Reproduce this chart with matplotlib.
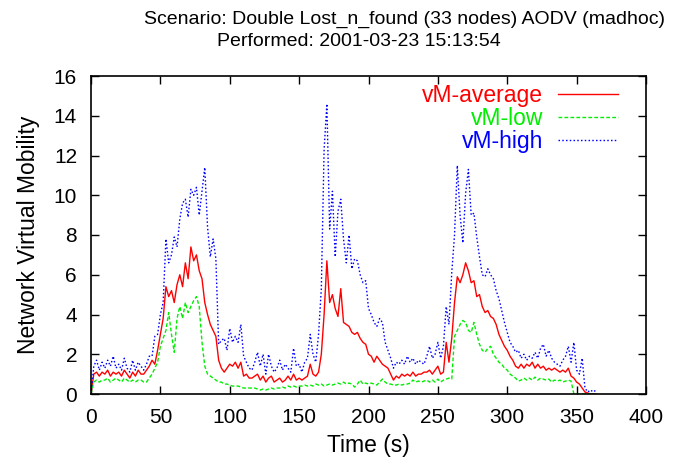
import numpy as np
import matplotlib
matplotlib.use("Agg")
import matplotlib.pyplot as plt

# values, one sample every 2 s
vm_average = [
    0.0, 1.0, 1.1, 0.9, 1.1, 1.0, 1.2, 0.9, 1.1, 1.0,
    1.1, 0.9, 1.2, 1.0, 0.8, 1.1, 0.9, 1.2, 1.0, 1.0,
    1.2, 1.4, 1.7, 1.5, 2.2, 3.0, 3.8, 5.4, 4.9, 5.2,
    4.6, 5.5, 6.0, 5.4, 6.6, 5.8, 7.4, 6.7, 7.0, 6.2,
    5.8, 4.6, 4.0, 3.5, 3.2, 2.9, 1.7, 1.3, 1.1, 1.3,
    1.5, 1.4, 1.6, 1.3, 1.6, 0.9, 1.0, 0.8, 0.8,
    0.9, 1.0, 0.7, 0.9, 0.6, 0.8, 0.9, 0.6, 0.7, 0.8,
    0.6, 0.7, 0.9, 0.7, 1.0, 0.7, 0.8, 0.7, 0.8, 0.9,
    1.5, 1.0, 0.9, 1.1, 2.0, 4.0, 6.7, 4.6, 5.0, 4.3,
    3.9, 5.3, 3.6, 3.5, 3.4, 3.1, 3.0, 3.1, 2.8, 2.6,
    2.5, 2.0, 1.9, 1.6, 1.9, 1.7, 1.5, 1.4, 1.3, 1.0,
    0.7, 0.9, 0.8, 1.0, 0.9, 1.0, 0.9, 1.1, 0.9, 1.0,
    1.0, 1.1, 1.1, 1.2, 1.0, 1.2, 1.4, 1.0, 1.1,
    2.6, 1.6, 2.8, 4.6, 5.9, 5.6, 6.0, 6.6, 6.2, 5.6,
    5.7, 4.9, 5.0, 4.4, 4.1, 4.2, 3.9, 3.8, 3.5, 3.0,
    2.7, 2.4, 2.2, 1.9, 1.7, 1.4, 1.3, 1.5, 1.3, 1.5,
    1.4, 1.6, 1.3, 1.5, 1.3, 1.4, 1.2, 1.3, 1.2, 1.3,
    1.2, 1.1, 1.2, 1.1, 1.3, 0.9, 0.8, 0.6, 0.5, 0.3,
    0.1, 0.05, 0.0, 0.0, 0.0,
]
vm_low = [
    0.0, 0.6, 0.7, 0.6, 0.7, 0.7, 0.8, 0.6, 0.7, 0.8,
    0.7, 0.6, 0.8, 0.7, 0.6, 0.7, 0.6, 0.7, 0.7, 0.6,
    0.6, 0.8, 1.0, 1.3, 1.6, 2.4, 2.8, 3.2, 4.1, 3.0,
    2.1, 3.8, 4.4, 3.8, 4.6, 4.1, 4.4, 4.7, 4.9, 4.4,
    2.6, 1.4, 1.0, 0.9, 0.8, 0.7, 0.6, 0.6, 0.5, 0.5,
    0.45, 0.4, 0.4, 0.4, 0.35, 0.3, 0.3, 0.3, 0.3,
    0.3, 0.25, 0.2, 0.25, 0.2, 0.25, 0.3, 0.25, 0.3, 0.3,
    0.35, 0.3, 0.4, 0.35, 0.4, 0.35, 0.4, 0.4, 0.45, 0.4,
    0.45, 0.4, 0.5, 0.45, 0.5, 0.4, 0.45, 0.5, 0.45, 0.5,
    0.55, 0.5, 0.6, 0.5, 0.55, 0.5, 0.35, 0.5, 0.7, 0.5,
    0.55, 0.5, 0.55, 0.5, 0.45, 0.6, 0.75, 0.6, 0.5, 0.5,
    0.45, 0.45, 0.5, 0.45, 0.5, 0.5, 0.55, 0.7, 0.6, 0.65,
    0.6, 0.65, 0.7, 0.6, 0.7, 0.6, 0.75, 0.6, 0.7,
    0.75, 0.8, 0.75, 2.9, 3.2, 3.5, 3.7, 3.6, 3.2, 3.1,
    3.6, 3.0, 2.5, 2.2, 2.1, 2.3, 2.4, 2.0, 1.8, 1.6,
    1.5, 1.3, 1.2, 1.0, 0.9, 0.8, 0.65, 0.7, 0.8, 0.7,
    0.8, 0.7, 0.85, 0.7, 0.8, 0.75, 0.7, 0.75, 0.6, 0.7,
    0.65, 0.7, 0.6, 0.65, 0.7, 0.65, 0.0, 0.0, 0.0, 0.0,
    0.0, 0.0, 0.0, 0.0, 0.0,
]
vm_high = [
    0.0, 1.4, 1.7, 1.2, 1.6, 1.3, 1.7, 1.4, 1.9, 1.3,
    1.5, 1.2, 1.8, 1.3, 1.1, 1.7, 1.2, 1.6, 1.4, 1.2,
    1.5, 1.9, 1.9, 2.9, 3.0, 4.0, 4.6, 7.8, 6.6, 7.0,
    7.9, 7.4, 8.8, 9.6, 9.8, 8.9, 10.3, 10.0, 10.4, 9.0,
    10.2, 11.4, 8.4, 6.9, 7.8, 6.8, 2.5, 2.7, 2.8, 2.2,
    3.3, 2.6, 2.9, 2.6, 3.5, 1.9, 1.6, 1.3, 1.2,
    1.6, 2.1, 1.4, 2.0, 1.0, 2.0, 1.4, 1.1, 1.3, 1.7,
    1.2, 1.5, 1.3, 1.1, 2.3, 1.4, 1.5, 1.1, 1.6, 1.8,
    3.0, 2.0, 1.6, 3.0, 5.3, 12.3, 14.6, 8.3, 10.2, 6.9,
    9.2, 9.8, 7.8, 6.6, 8.0, 6.3, 6.8, 6.7, 6.0, 5.6,
    5.7, 4.3, 4.0, 3.6, 3.4, 3.8, 3.6, 2.6, 2.2, 1.8,
    1.3, 1.6, 1.5, 1.7, 1.5, 1.9, 1.6, 1.8, 1.5, 1.7,
    1.6, 1.5, 1.9, 2.4, 1.8, 2.0, 2.6, 1.8, 2.4,
    4.4, 3.5, 6.1, 8.0, 11.5, 9.0, 7.6, 10.1, 11.3, 9.0,
    9.1, 7.9, 6.9, 6.0, 5.9, 6.3, 6.0, 5.8, 5.2, 4.8,
    4.2, 3.6, 3.1, 2.6, 2.4, 2.1, 2.2, 1.8, 2.0, 1.7,
    1.9, 1.8, 2.1, 1.8, 2.3, 2.5, 1.9, 2.2, 1.8, 1.6,
    1.5, 1.4, 1.7, 1.9, 2.4, 1.6, 2.6, 1.2, 1.0, 1.8,
    0.3, 0.1, 0.2, 0.1, 0.2,
]
time_s = np.arange(0, 2 * len(vm_average), 2)

plt.rcParams["font.family"] = ["Liberation Sans", "DejaVu Sans"]

fig = plt.figure(figsize=(6.84, 4.63), dpi=100)
ax = fig.add_axes([91 / 684, 69 / 463, 555 / 684, 318 / 463])

ax.plot(time_s, vm_average, color="#ff0000", lw=1.0, label="vM-average")
ax.plot(time_s, vm_low, color="#00ee00", lw=1.0, dashes=(2.7, 1.6), label="vM-low")
ax.plot(time_s, vm_high, color="#0000ff", lw=1.0, dashes=(1.1, 1.6), label="vM-high")

ax.set_xlim(0, 400)
ax.set_ylim(0, 16)
ax.set_xticks(range(0, 401, 50))
ax.set_yticks(range(0, 17, 2))
ax.tick_params(direction="in", length=6, width=1, top=True, right=True,
               labelsize=15, pad=10)
for s in ax.spines.values():
    s.set_linewidth(1.2)

ax.set_xlabel("Time (s)", fontsize=16.5, labelpad=5)
ax.set_ylabel("Network Virtual Mobility", fontsize=16.5, labelpad=10)

leg = ax.legend(loc="upper right", bbox_to_anchor=(0.97, 1.01), frameon=False,
                markerfirst=False, labelcolor="linecolor", fontsize=16.5,
                handlelength=2.6, handletextpad=0.65, labelspacing=0.0,
                borderpad=0.0)

fig.text(405 / 684, 1 - 19 / 463, "Scenario: Double Lost_n_found (33 nodes) AODV (madhoc)",
         ha="center", va="center", fontsize=14)
fig.text(359 / 684, 1 - 42 / 463, "Performed: 2001-03-23 15:13:54",
         ha="center", va="center", fontsize=14)

fig.savefig("out.png", dpi=100)
